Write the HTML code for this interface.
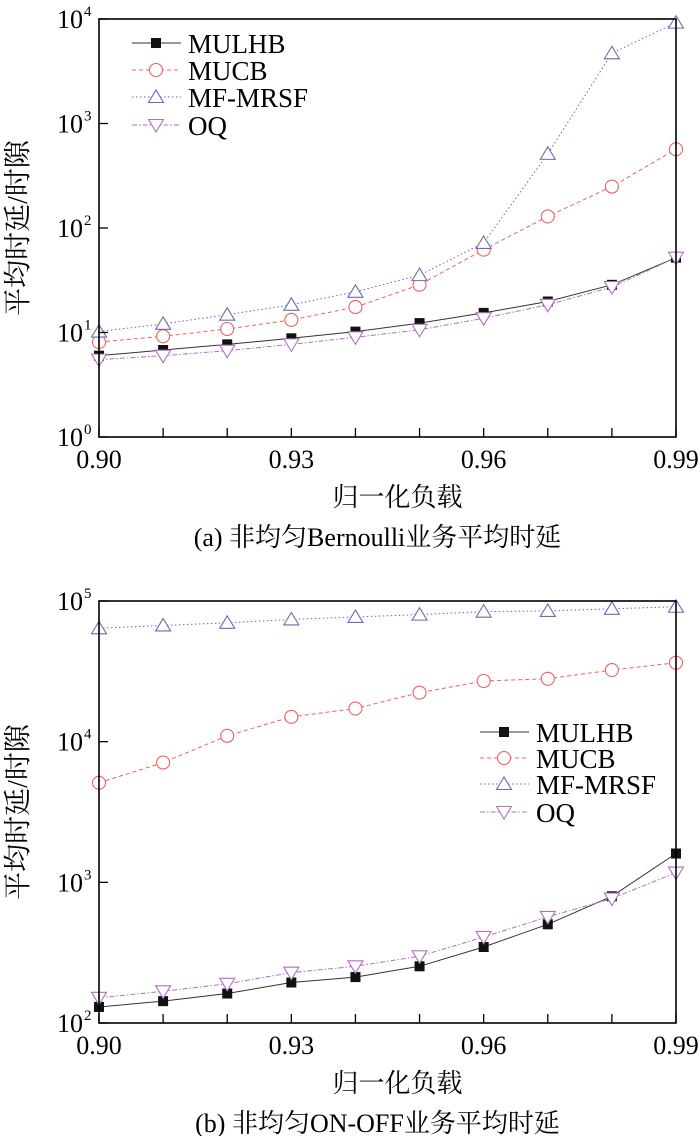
<!DOCTYPE html>
<html><head><meta charset="utf-8"><style>
body{margin:0;background:#fff;}
svg{display:block;}
text{font-family:"Liberation Serif","Noto Serif CJK SC","Noto Sans CJK SC",serif;fill:#000;}
</style></head><body>
<svg id="chart" width="700" height="1136" viewBox="0 0 700 1136" xmlns="http://www.w3.org/2000/svg"></svg>
<script>
const xLoads = [0.90,0.91,0.92,0.93,0.94,0.95,0.96,0.97,0.98,0.99];
const xTickLabels = ["0.90","0.93","0.96","0.99"];
const aMULHB = [6.0,6.8,7.7,8.8,10.2,12.3,15.4,19.8,28.6,52];
const aMUCB = [8.1,9.2,10.8,13.2,17.5,28.6,62,129,249,567];
const aMFMRSF = [10.2,12.1,14.8,18.4,24.5,35.4,72,512,4700,9230];
const aOQ = [5.5,6.0,6.7,7.7,9.0,10.6,13.7,18.4,27.2,52];
const aYTickExps = [0,1,2,3,4];
const bMULHB = [130,143,162,194,212,253,347,503,796,1603];
const bMUCB = [5100,7100,11000,15000,17200,22300,27000,28000,32300,36400];
const bMFMRSF = [64000,67000,70000,74000,77000,80000,84000,85000,88000,91000];
const bOQ = [151,168,190,228,253,298,409,568,767,1173];
const bYTickExps = [2,3,4,5];
const seriesNames = ["MULHB","MUCB","MF-MRSF","OQ"];

const NS="http://www.w3.org/2000/svg";
const svg=document.getElementById('chart');
function mk(tag,attrs,parent){const e=document.createElementNS(NS,tag);for(const k in attrs)e.setAttribute(k,attrs[k]);(parent||svg).appendChild(e);return e;}

const styles=[
 {color:"#333",dash:"",marker:"square"},
 {color:"#f06060",dash:"4,3",marker:"circle"},
 {color:"#6a6ab8",dash:"1.5,2.5",marker:"up"},
 {color:"#b070c0",dash:"5,2,1.5,2",marker:"down"}
];

function drawMarker(g,type,x,y,color,name){
  let m;
  if(type==="square") m=mk('rect',{x:x-5,y:y-5,width:10,height:10,fill:"#111"},g);
  else if(type==="circle") m=mk('circle',{cx:x,cy:y,r:6.5,fill:"#fff",stroke:color,'stroke-width':1.1},g);
  else if(type==="up") m=mk('polygon',{points:`${x},${y-7} ${x-7.5},${y+5.5} ${x+7.5},${y+5.5}`,fill:"#fff",stroke:color,'stroke-width':1.1},g);
  else m=mk('polygon',{points:`${x},${y+7} ${x-7.5},${y-5.5} ${x+7.5},${y-5.5}`,fill:"#fff",stroke:color,'stroke-width':1.1},g);
  
  
}

function panel(cfg){
  const g=mk('g',{});
  
  
  const L=99,R=676,T=cfg.top,B=cfg.bottom;
  const lo=cfg.exps[0],hi=cfg.exps[cfg.exps.length-1];
  const xs=v=>L+(v-0.90)/(0.09)*(R-L);
  const ys=v=>B-(Math.log10(v)-lo)/(hi-lo)*(B-T);
  // series
  const data=cfg.series;
  data.forEach((arr,i)=>{
    const st=styles[i];
    const pts=arr.map((v,j)=>xs(xLoads[j])+","+ys(v)).join(" ");
    const pl=mk('polyline',{points:pts,fill:"none",stroke:st.color,'stroke-width':1,'stroke-dasharray':st.dash},g);
    
    
  });
  // draw markers in order so square under OQ at end
  data.forEach((arr,i)=>{
    arr.forEach((v,j)=>drawMarker(g,styles[i].marker,xs(xLoads[j]),ys(v),styles[i].color,'point-'+seriesNames[i].toLowerCase()));
  });
  // frame
  const fr=mk('rect',{x:L,y:T,width:R-L,height:B-T,fill:"none",stroke:"#000",'stroke-width':1.6},g);
  
  
  // x ticks
  xLoads.forEach(v=>{mk('line',{x1:xs(v),x2:xs(v),y1:B,y2:B-9,stroke:"#000",'stroke-width':1.3},g);});
  xTickLabels.forEach(s=>{
    const t=mk('text',{x:xs(parseFloat(s)),y:B+31,'text-anchor':'middle','font-size':26},g);
    t.textContent=s;
    
    
  });
  // y ticks
  cfg.exps.forEach(e=>{
    const y=ys(Math.pow(10,e));
    mk('line',{x1:L,x2:L+9,y1:y,y2:y,stroke:"#000",'stroke-width':1.3},g);
    const t=mk('text',{x:L-4,y:y+9,'text-anchor':'end','font-size':26},g);
    
    
    t.textContent="10";
    const s=mk('tspan',{dy:-12,'font-size':15},t);s.textContent=String(e);
    // shift: put base before exponent - adjust anchor
    t.setAttribute('x',L-16);
    s.setAttribute('x',L-15); s.setAttribute('text-anchor','start');
  });
  // y title
  const yt=mk('text',{x:0,y:0,'font-size':28,'text-anchor':'middle',transform:`translate(27,${(T+B)/2}) rotate(-90)`},g);
  yt.textContent="平均时延/时隙";
  
  
  const xt=mk('text',{x:(L+R)/2+10,y:B+69,'font-size':26,'text-anchor':'middle'},g);
  xt.textContent="归一化负载";
  
  
  const cp=mk('text',{x:(L+R)/2-10,y:B+109,'font-size':26,'text-anchor':'middle'},g);
  cp.textContent=cfg.caption;
  
  
  // legend
  const lg=mk('g',{},g);
  
  
  cfg.legendYs.forEach((ly,i)=>{
    const st=styles[i];
    const e=mk('g',{},lg);
    
    
    mk('line',{x1:cfg.legendX,x2:cfg.legendX+49,y1:ly,y2:ly,stroke:st.color,'stroke-width':1,'stroke-dasharray':st.dash},e);
    drawMarker(e,st.marker,cfg.legendX+24,ly,st.color,'legend-marker');
    const t=mk('text',{x:cfg.legendX+56,y:ly+10,'font-size':27},e);
    t.textContent=seriesNames[i];
  });
}

panel({name:'chart-a',top:19,bottom:437,exps:aYTickExps,series:[aMULHB,aMUCB,aMFMRSF,aOQ],
  caption:"(a) 非均匀Bernoulli业务平均时延",legendX:132,legendYs:[43,70,97,125]});
panel({name:'chart-b',top:601,bottom:1023,exps:bYTickExps,series:[bMULHB,bMUCB,bMFMRSF,bOQ],
  caption:"(b) 非均匀ON-OFF业务平均时延",legendX:480,legendYs:[732,758,784,812]});
</script>
</body></html>
